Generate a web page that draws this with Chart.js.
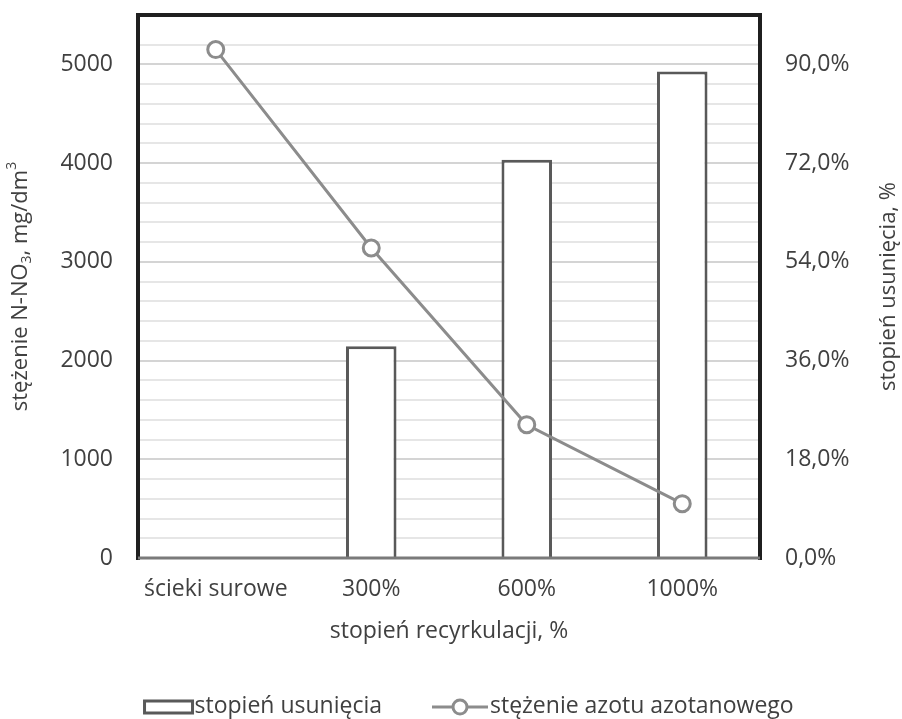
<!DOCTYPE html>
<html>
<head>
<meta charset="utf-8">
<script src="https://cdn.jsdelivr.net/npm/chart.js@4"></script>
<style>
  html, body { margin: 0; padding: 0; background: #fff; }
  #wrap { width: 902px; height: 719px; }
</style>
</head>
<body>
<div id="wrap"><canvas id="chart" width="902" height="719"></canvas></div>
<script>
// --- Data ---
const categories = ['ścieki surowe', '300%', '600%', '1000%'];
const removalPct = [null, 38.6, 72.6, 88.7];          // stopień usunięcia, % (right axis)
const nitrateConc = [5150, 3140, 1350, 550];          // stężenie azotu azotanowego, mg/dm3 (left axis)
const leftTicks = [0, 1000, 2000, 3000, 4000, 5000];
const rightTicks = [0, 18, 36, 54, 72, 90];

const FONT = '"Open Sans", "DejaVu Sans", sans-serif';
const TEXT = '#404040';
const LINE_GRAY = '#8c8c8c';
const BAR_EDGE = '#595959';

// --- Frame, axis titles and legend drawn on top ---
const decorations = {
    id: 'decorations',
    afterDraw(chart) {
        const { ctx, chartArea: a } = chart;
        ctx.save();

        // plot frame: dark left/top/right, grey baseline
        ctx.lineCap = 'square';
        ctx.strokeStyle = '#1f1f1f';
        ctx.lineWidth = 4;
        ctx.beginPath();
        ctx.moveTo(a.left, a.bottom);
        ctx.lineTo(a.left, a.top);
        ctx.lineTo(a.right, a.top);
        ctx.lineTo(a.right, a.bottom);
        ctx.stroke();
        ctx.strokeStyle = '#7a7a7a';
        ctx.lineWidth = 3;
        ctx.lineCap = 'butt';
        ctx.beginPath();
        ctx.moveTo(a.left, a.bottom);
        ctx.lineTo(a.right, a.bottom);
        ctx.stroke();

        ctx.fillStyle = TEXT;
        const size = 22;
        const small = 14;

        // left title with subscript / superscript
        const parts = [
            { t: 'stężenie N-NO', s: size, dy: 0 },
            { t: '3', s: small, dy: 6 },
            { t: ', mg/dm', s: size, dy: 0 },
            { t: '3', s: small, dy: -9 }
        ];
        let total = 0;
        parts.forEach(p => { ctx.font = `${p.s}px ${FONT}`; p.w = ctx.measureText(p.t).width; total += p.w; });
        ctx.translate(21, (a.top + a.bottom) / 2);
        ctx.rotate(-Math.PI / 2);
        ctx.textBaseline = 'middle';
        ctx.textAlign = 'left';
        let x = -total / 2;
        parts.forEach(p => {
            ctx.font = `${p.s}px ${FONT}`;
            ctx.fillText(p.t, x, p.dy);
            x += p.w;
        });
        ctx.setTransform(1, 0, 0, 1, 0, 0);

        // right title
        ctx.font = `${size}px ${FONT}`;
        ctx.textAlign = 'center';
        ctx.translate(889, (a.top + a.bottom) / 2);
        ctx.rotate(-Math.PI / 2);
        ctx.fillText('stopień usunięcia, %', 0, 0);
        ctx.setTransform(1, 0, 0, 1, 0, 0);

        // x title
        ctx.font = `23px ${FONT}`;
        ctx.fillText('stopień recyrkulacji, %', (a.left + a.right) / 2, 631);

        // legend (second entry anchored, first laid out leftwards)
        const ly = 707;
        const t1 = 'stopień usunięcia';
        const t2 = 'stężenie azotu azotanowego';
        const w1 = ctx.measureText(t1).width;
        const boxW = 48, lineW = 56;
        const t2x = 490;
        const markX = t2x - 2 - lineW;
        const t1x = markX - 50 - w1;
        const boxX = t1x - 2 - boxW;

        ctx.fillStyle = '#fff';
        ctx.strokeStyle = BAR_EDGE;
        ctx.lineWidth = 3;
        ctx.fillRect(boxX, ly - 6, boxW, 12);
        ctx.strokeRect(boxX, ly - 6, boxW, 12);
        ctx.fillStyle = TEXT;
        ctx.textAlign = 'left';
        ctx.fillText(t1, t1x, ly - 1);

        ctx.strokeStyle = LINE_GRAY;
        ctx.beginPath();
        ctx.moveTo(markX, ly);
        ctx.lineTo(markX + lineW, ly);
        ctx.stroke();
        ctx.fillStyle = '#fff';
        ctx.beginPath();
        ctx.arc(markX + lineW / 2, ly, 7, 0, Math.PI * 2);
        ctx.fill();
        ctx.stroke();
        ctx.fillStyle = TEXT;
        ctx.fillText(t2, t2x, ly - 1);

        ctx.restore();
    }
};

const noPad = s => { s.paddingTop = 0; s.paddingBottom = 0; };

new Chart(document.getElementById('chart'), {
    data: {
        labels: categories,
        datasets: [
            {
                type: 'line',
                label: 'stężenie azotu azotanowego',
                data: nitrateConc,
                yAxisID: 'y',
                order: 0,
                borderColor: LINE_GRAY,
                borderWidth: 3,
                pointRadius: 8,
                pointBorderWidth: 3,
                pointBackgroundColor: '#fff',
                pointBorderColor: LINE_GRAY,
                tension: 0
            },
            {
                type: 'bar',
                label: 'stopień usunięcia',
                data: removalPct,
                yAxisID: 'y1',
                order: 1,
                backgroundColor: '#fff',
                borderColor: BAR_EDGE,
                borderWidth: 3,
                categoryPercentage: 1,
                barPercentage: 0.325
            }
        ]
    },
    options: {
        responsive: false,
        animation: false,
        layout: { padding: { top: 15, left: 0, right: 0, bottom: 0 } },
        plugins: {
            legend: { display: false },
            tooltip: { enabled: false }
        },
        scales: {
            x: {
                offset: true,
                grid: { display: false },
                border: { display: false },
                ticks: { color: TEXT, font: { family: FONT, size: 23 }, padding: 10, maxRotation: 0 },
                afterFit(s) { s.height = 161; s.paddingLeft = 0; s.paddingRight = 0; }
            },
            y: {
                position: 'left',
                min: 0,
                max: 5500,
                border: { display: false },
                grid: {
                    drawTicks: false,
                    lineWidth: 2,
                    color: c => (leftTicks.includes(c.tick && c.tick.value) ? '#d4d4d4' : '#e6e6e6')
                },
                ticks: {
                    stepSize: 200,
                    autoSkip: false,
                    padding: 25,
                    color: TEXT,
                    font: { family: FONT, size: 23 },
                    callback: v => (leftTicks.includes(v) ? String(v) : '')
                },
                afterFit(s) { s.width = 138; noPad(s); }
            },
            y1: {
                position: 'right',
                min: 0,
                max: 99,
                border: { display: false },
                grid: { display: false, drawTicks: false },
                ticks: {
                    stepSize: 18,
                    autoSkip: false,
                    padding: 25,
                    color: TEXT,
                    font: { family: FONT, size: 23 },
                    callback: v => (rightTicks.includes(v) ? v.toFixed(1).replace('.', ',') + '%' : '')
                },
                afterFit(s) { s.width = 142; noPad(s); }
            }
        }
    },
    plugins: [decorations]
});
</script>
</body>
</html>
